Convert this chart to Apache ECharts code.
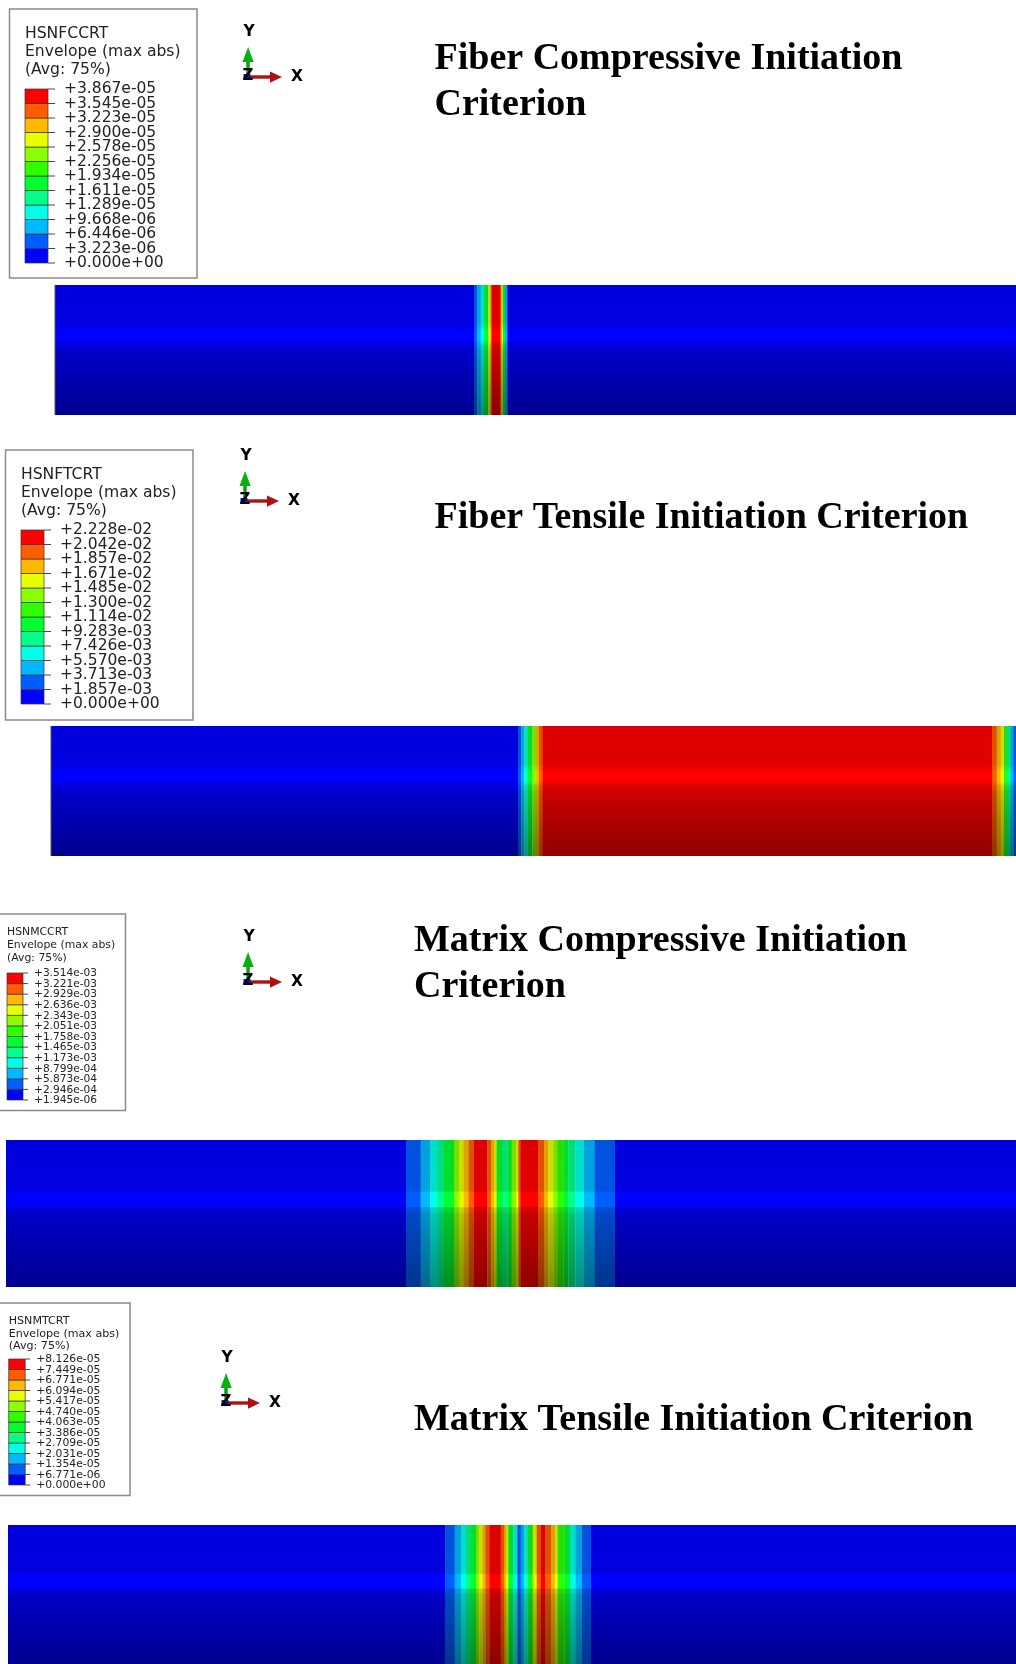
<!DOCTYPE html>
<html><head><meta charset="utf-8">
<script src="https://cdn.jsdelivr.net/npm/echarts@6/dist/echarts.min.js"></script>
<style>html,body{margin:0;padding:0;background:#fff}#c{width:1016px;height:1664px;filter:blur(0.45px)}</style>
</head><body><div id="c"></div>
<script>
// Contour palette, lowest level first
const palette = ['#0000FF','#005DFF','#00B9FF','#00FFE8','#00FF8B','#00FF2E','#2EFF00','#8BFF00','#E8FF00','#FFB900','#FF5D00','#FF0000'];

// Legend tick labels, top to bottom
const labelsFC = ['+3.867e-05','+3.545e-05','+3.223e-05','+2.900e-05','+2.578e-05','+2.256e-05','+1.934e-05','+1.611e-05','+1.289e-05','+9.668e-06','+6.446e-06','+3.223e-06','+0.000e+00'];
const labelsFT = ['+2.228e-02','+2.042e-02','+1.857e-02','+1.671e-02','+1.485e-02','+1.300e-02','+1.114e-02','+9.283e-03','+7.426e-03','+5.570e-03','+3.713e-03','+1.857e-03','+0.000e+00'];
const labelsMC = ['+3.514e-03','+3.221e-03','+2.929e-03','+2.636e-03','+2.343e-03','+2.051e-03','+1.758e-03','+1.465e-03','+1.173e-03','+8.799e-04','+5.873e-04','+2.946e-04','+1.945e-06'];
const labelsMT = ['+8.126e-05','+7.449e-05','+6.771e-05','+6.094e-05','+5.417e-05','+4.740e-05','+4.063e-05','+3.386e-05','+2.709e-05','+2.031e-05','+1.354e-05','+6.771e-06','+0.000e+00'];

// Band edges along each strip and the contour level of the band between two edges
const edgesFC = [55,474,477.3,480.7,484,488.3,490.5,492,500,501.5,503,505,507.3,1016];
const levelsFC = [0,1,2,3,5,8,10,11,10,8,5,2,0];
const edgesFT = [51,518,521.3,524.3,527.3,532.3,536,539,542.7,992,996.7,1000.7,1004,1006.7,1010.7,1013.3,1016];
const levelsFT = [0,1,2,3,5,7,9,10,11,10,9,8,6,4,2,1];
const edgesMC = [6,406,420.7,430,437.7,444,454,459,463.7,468.7,474,487.3,491.3,494,496.7,502.7,507.3,511.7,516,518.3,520.3,538,544,548.3,553.3,557.7,563.3,568.3,575.3,584,594.7,615,1016];
const levelsMC = [0,1,2,3,4,5,7,8,9,10,11,10,9,8,5,4,5,7,8,10,11,10,9,8,7,6,5,4,3,2,1,0];
const edgesMT = [8,445,454.7,461,466,470.7,476,479.3,482.3,485.3,489.3,500.7,504,506,508.3,513.3,517.3,520.7,524.3,527.3,532.7,536.7,541,545,551,555,557.7,564.3,570,575.7,582,591,1016];
const levelsMT = [0,1,2,3,4,5,7,8,9,10,11,10,9,8,5,3,1,2,3,5,8,10,11,10,9,8,6,5,3,2,1,0];

// Vertical shading of the cylinder: [fraction from top, brightness]
const softStops = [[0,0.87],[0.29,0.88],[0.36,1],[0.42,1],[0.47,0.84],[0.49,0.83],[0.5,0.8],[1,0.56]];
const sharpStops = [[0,0.87],[0.345,0.88],[0.36,1],[0.452,1],[0.462,0.84],[0.49,0.83],[0.5,0.78],[1,0.56]];

const strips = [
  {edges:edgesFC, levels:levelsFC, top:285, height:130, edge:true, stops:softStops},
  {edges:edgesFT, levels:levelsFT, top:726, height:130, edge:true, stops:softStops},
  {edges:edgesMC, levels:levelsMC, top:1140, height:147, stops:sharpStops},
  {edges:edgesMT, levels:levelsMT, top:1525, height:147, stops:sharpStops}
];
const legends = [
  {name:'HSNFCCRT', labels:labelsFC, box:[9.5,9,187.5,269], text:[25,34,52,70], bar:[25,89,23,174], font:15.5, tick:7, margin:16, head:15.6, dy:0},
  {name:'HSNFTCRT', labels:labelsFT, box:[5.5,450,187.5,270], text:[21,475,493,511], bar:[21,530,23,174], font:15.5, tick:7, margin:16, head:15.6, dy:0},
  {name:'HSNMCCRT', labels:labelsMC, box:[-1,914,126.5,196.5], text:[7,932,945,958.5], bar:[7,973,16,127], font:10.6, tick:5, margin:11, head:10.85, dy:0.5},
  {name:'HSNMTCRT', labels:labelsMT, box:[-1,1303,131,192.5], text:[8.7,1321,1334,1346], bar:[8.7,1359,16.5,126], font:10.8, tick:5, margin:11, head:11.1, dy:0.5}
];
const titles = [
  {text:'Fiber Compressive Initiation\nCriterion', left:434.5, top:36.5},
  {text:'Fiber Tensile Initiation Criterion', left:434.5, top:495},
  {text:'Matrix Compressive Initiation\nCriterion', left:414, top:918},
  {text:'Matrix Tensile Initiation Criterion', left:414, top:1397}
];
const triads = [[248,77],[245,501],[248,982],[226,1403]];

function shade(hex,k){
  const n=parseInt(hex.slice(1),16);
  return 'rgb('+Math.round((n>>16&255)*k)+','+Math.round((n>>8&255)*k)+','+Math.round((n&255)*k)+')';
}
function bandRender(stops){
  return function(params,api){
    const a=api.coord([api.value(0),1]);
    const b=api.coord([api.value(1),0]);
    const lev=palette[api.value(2)];
    return {type:'rect',shape:{x:a[0],y:a[1],width:b[0]-a[0]+0.3,height:b[1]-a[1]},
      style:{fill:{type:'linear',x:0,y:0,x2:0,y2:1,colorStops:stops.map(s=>({offset:s[0],color:shade(lev,s[1])}))}}};
  };
}
function legendRender(params,api){
  const a=api.coord([0,api.value(1)]), b=api.coord([1,api.value(0)]);
  return {type:'rect',shape:{x:a[0],y:a[1],width:b[0]-a[0],height:b[1]-a[1]},
    style:{fill:palette[api.value(2)],stroke:'#333',lineWidth:0.7}};
}
function tickRender(l){
  return function(params,api){
    const p=api.coord([1,api.value(0)]);
    return {type:'group',children:[
      {type:'line',shape:{x1:p[0],y1:p[1],x2:p[0]+l.tick,y2:p[1]},style:{stroke:'#333',lineWidth:0.9}},
      {type:'text',x:p[0]+l.margin,y:p[1]+l.dy,style:{text:l.labels[params.dataIndex],fontFamily:'DejaVu Sans',fontSize:l.font,fill:'#222',align:'left',verticalAlign:'middle'}}
    ]};
  };
}

const grid=[],xAxis=[],yAxis=[],series=[],graphic=[];
strips.forEach((s)=>{
  grid.push({left:0,width:1016,top:s.top,height:s.height});
  const g=grid.length-1;
  xAxis.push({type:'value',gridIndex:g,min:0,max:1016,show:false});
  yAxis.push({type:'value',gridIndex:g,min:0,max:1,show:false});
  series.push({type:'custom',xAxisIndex:g,yAxisIndex:g,silent:true,animation:false,
    renderItem:bandRender(s.stops),encode:{x:[0,1]},
    data:s.levels.map((l,j)=>[s.edges[j],s.edges[j+1],l])});
  if(s.edge) graphic.push({type:'rect',z:10,shape:{x:s.edges[0]-0.5,y:s.top,width:1,height:s.height},style:{fill:'#555'}});
});
legends.forEach((l)=>{
  const [x,y,w,h]=l.bar;
  grid.push({left:x,top:y,width:w,height:h});
  const g=grid.length-1;
  xAxis.push({type:'value',gridIndex:g,min:0,max:1,show:false});
  yAxis.push({type:'value',gridIndex:g,min:0,max:12,show:false});
  series.push({type:'custom',xAxisIndex:g,yAxisIndex:g,silent:true,animation:false,renderItem:legendRender,
    encode:{y:[0,1]},data:palette.map((c,i)=>[i,i+1,i])});
  series.push({type:'custom',xAxisIndex:g,yAxisIndex:g,silent:true,animation:false,renderItem:tickRender(l),
    encode:{y:0},data:l.labels.map((t,i)=>[12-i])});
  graphic.push({type:'rect',z:-1,shape:{x:l.box[0],y:l.box[1],width:l.box[2],height:l.box[3]},
    style:{fill:'#fff',stroke:'#8a8a8a',lineWidth:1.5}});
  [l.name,'Envelope (max abs)','(Avg: 75%)'].forEach((t,i)=>{
    graphic.push({type:'text',x:l.text[0],y:l.text[i+1],style:{text:t,fontFamily:'DejaVu Sans',fontSize:l.head,fill:'#222',verticalAlign:'middle',align:'left'}});
  });
});
triads.forEach(([ox,oy])=>{
  graphic.push({type:'rect',shape:{x:ox-1.7,y:oy-20,width:3.4,height:20},style:{fill:'#0a9a14'}});
  graphic.push({type:'polygon',shape:{points:[[ox-5.5,oy-15],[ox+5.7,oy-15],[ox+0.1,oy-30]]},style:{fill:'#06b010'}});
  graphic.push({type:'rect',shape:{x:ox+2,y:oy-1.7,width:22,height:3.4},style:{fill:'#a81414'}});
  graphic.push({type:'polygon',shape:{points:[[ox+22,oy-5.5],[ox+22,oy+5.7],[ox+34,oy+0.1]]},style:{fill:'#b01010'}});
  graphic.push({type:'rect',shape:{x:ox-4.5,y:oy-3,width:7,height:6},style:{fill:'#1212c0'}});
  graphic.push({type:'text',x:ox,y:oy-1,style:{text:'Z',fontFamily:'DejaVu Sans',fontWeight:'bold',fontSize:15,fill:'#000',align:'center',verticalAlign:'middle'}});
  graphic.push({type:'text',x:ox+1,y:oy-45,style:{text:'Y',fontFamily:'DejaVu Sans',fontWeight:'bold',fontSize:15.5,fill:'#000',align:'center',verticalAlign:'middle'}});
  graphic.push({type:'text',x:ox+49,y:oy,style:{text:'X',fontFamily:'DejaVu Sans',fontWeight:'bold',fontSize:15.5,fill:'#000',align:'center',verticalAlign:'middle'}});
});

const chart=echarts.init(document.getElementById('c'),null,{renderer:'canvas'});
chart.setOption({animation:false,backgroundColor:'#fff',
  title:titles.map(t=>({text:t.text,left:t.left,top:t.top,padding:0,
    textStyle:{fontFamily:'Liberation Serif',fontWeight:'bold',fontSize:38,lineHeight:46,color:'#000'}})),
  grid,xAxis,yAxis,series,graphic});
</script></body></html>
